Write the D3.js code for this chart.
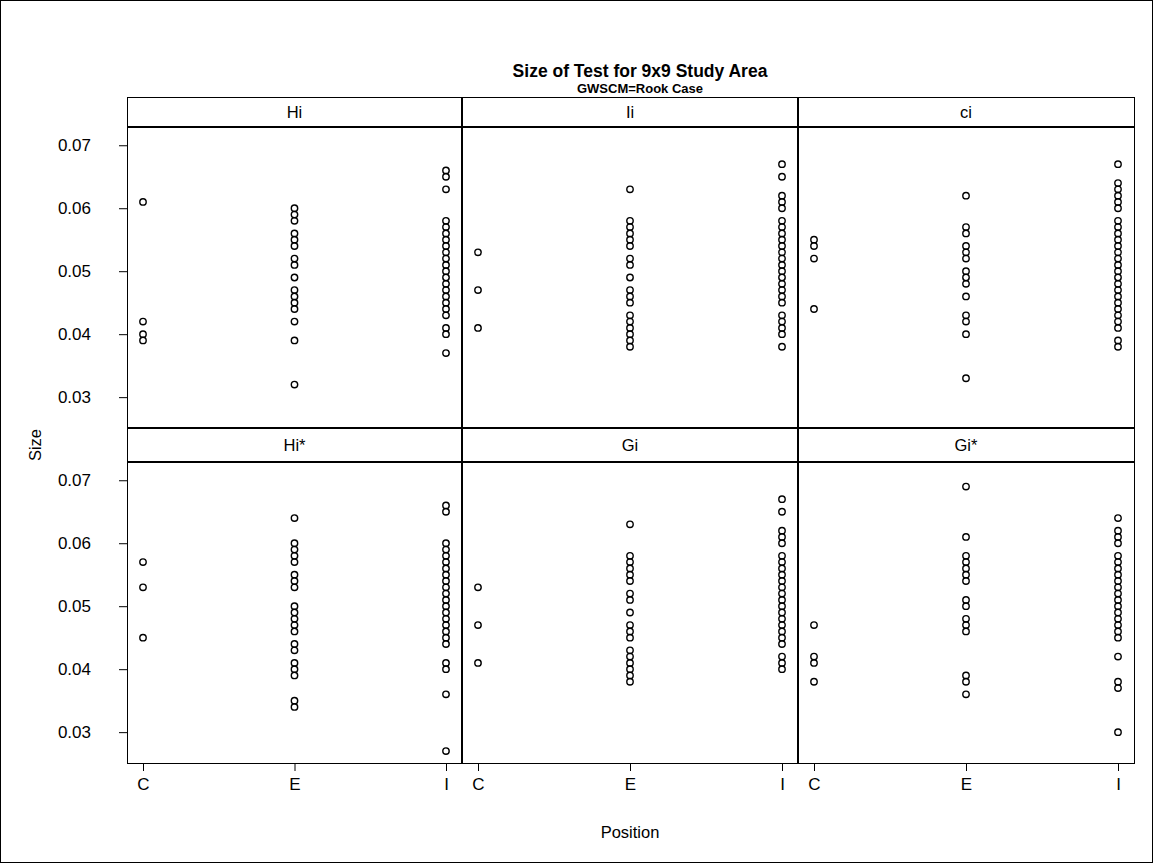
<!DOCTYPE html>
<html>
<head>
<meta charset="utf-8">
<script src="https://cdn.jsdelivr.net/npm/d3@7"></script>
<style>
  body { margin: 0; background: #fff; }
  svg { display: block; }
  text { font-family: "Liberation Sans", Arial, sans-serif; fill: #000; }
</style>
</head>
<body>
<svg id="chart" width="1155" height="865"></svg>
<script>
// Panel labels, x categories and y ticks
const panelNames = ["Hi", "Ii", "ci", "Hi*", "Gi", "Gi*"];
const positions = ["C", "E", "I"];
const yTicks = [0.03, 0.04, 0.05, 0.06, 0.07];

// Size of test per statistic and cell position
const hiC = [0.061, 0.042, 0.040, 0.039];
const hiE = [0.060, 0.059, 0.058, 0.056, 0.055, 0.054, 0.052, 0.051, 0.049, 0.047, 0.046, 0.045, 0.044, 0.042, 0.039, 0.032];
const hiI = [0.066, 0.065, 0.063, 0.058, 0.057, 0.056, 0.055, 0.054, 0.053, 0.052, 0.051, 0.050, 0.049, 0.048, 0.047, 0.046, 0.045, 0.044, 0.043, 0.041, 0.040, 0.037];

const iiC = [0.053, 0.047, 0.041];
const iiE = [0.063, 0.058, 0.057, 0.056, 0.055, 0.054, 0.052, 0.051, 0.049, 0.047, 0.046, 0.045, 0.043, 0.042, 0.041, 0.040, 0.039, 0.038];
const iiI = [0.067, 0.065, 0.062, 0.061, 0.060, 0.058, 0.057, 0.056, 0.055, 0.054, 0.053, 0.052, 0.051, 0.050, 0.049, 0.048, 0.047, 0.046, 0.045, 0.043, 0.042, 0.041, 0.040, 0.038];

const ciC = [0.055, 0.054, 0.052, 0.044];
const ciE = [0.062, 0.057, 0.056, 0.054, 0.053, 0.052, 0.050, 0.049, 0.048, 0.046, 0.043, 0.042, 0.040, 0.033];
const ciI = [0.067, 0.064, 0.063, 0.062, 0.061, 0.060, 0.058, 0.057, 0.056, 0.055, 0.054, 0.053, 0.052, 0.051, 0.050, 0.049, 0.048, 0.047, 0.046, 0.045, 0.044, 0.043, 0.042, 0.041, 0.039, 0.038];

const hisC = [0.057, 0.053, 0.045];
const hisE = [0.064, 0.060, 0.059, 0.058, 0.057, 0.055, 0.054, 0.053, 0.050, 0.049, 0.048, 0.047, 0.046, 0.044, 0.043, 0.041, 0.040, 0.039, 0.035, 0.034];
const hisI = [0.066, 0.065, 0.060, 0.059, 0.058, 0.057, 0.056, 0.055, 0.054, 0.053, 0.052, 0.051, 0.050, 0.049, 0.048, 0.047, 0.046, 0.045, 0.044, 0.041, 0.040, 0.036, 0.027];

const giC = [0.053, 0.047, 0.041];
const giE = [0.063, 0.058, 0.057, 0.056, 0.055, 0.054, 0.052, 0.051, 0.049, 0.047, 0.046, 0.045, 0.043, 0.042, 0.041, 0.040, 0.039, 0.038];
const giI = [0.067, 0.065, 0.062, 0.061, 0.060, 0.058, 0.057, 0.056, 0.055, 0.054, 0.053, 0.052, 0.051, 0.050, 0.049, 0.048, 0.047, 0.046, 0.045, 0.044, 0.042, 0.041, 0.040];

const gisC = [0.047, 0.042, 0.041, 0.038];
const gisE = [0.069, 0.061, 0.058, 0.057, 0.056, 0.055, 0.054, 0.051, 0.050, 0.048, 0.047, 0.046, 0.039, 0.038, 0.036];
const gisI = [0.064, 0.062, 0.061, 0.060, 0.058, 0.057, 0.056, 0.055, 0.054, 0.053, 0.052, 0.051, 0.050, 0.049, 0.048, 0.047, 0.046, 0.045, 0.042, 0.038, 0.037, 0.030];

const panelData = [
  [hiC, hiE, hiI], [iiC, iiE, iiI], [ciC, ciE, ciI],
  [hisC, hisE, hisI], [giC, giE, giI], [gisC, gisE, gisI]
];

const svg = d3.select("#chart");
const labelFont = "16.5px";
const tickFont = "17px";
const fontStack = "'Liberation Sans', Arial, sans-serif";

// Grid geometry
const colEdges = [127, 462, 798, 1134];
const rows = [
  { headTop: 97, plotTop: 127, plotBottom: 428 },
  { headTop: 428, plotTop: 462, plotBottom: 763 }
];

// outer frame
svg.append("rect").attr("x", 0.5).attr("y", 0.5).attr("width", 1152).attr("height", 862)
  .attr("fill", "none").attr("stroke", "#000");

// titles
svg.append("text").attr("x", 640).attr("y", 77).attr("text-anchor", "middle")
  .style("font-size", "17.5px").style("font-weight", "bold").text("Size of Test for 9x9 Study Area");
svg.append("text").attr("x", 640).attr("y", 93).attr("text-anchor", "middle")
  .style("font-size", "13px").style("font-weight", "bold").text("GWSCM=Rook Case");

const yDomain = [0.0251, 0.0729];

panelData.forEach((cols, i) => {
  const r = rows[Math.floor(i / 3)];
  const c = i % 3;
  const x0 = colEdges[c], x1 = colEdges[c + 1];

  const x = d3.scalePoint().domain(positions).range([x0 + 16, x1 - 16]);
  const y = d3.scaleLinear().domain(yDomain).range([r.plotBottom, r.plotTop]);

  // header strip
  svg.append("rect").attr("x", x0 + 0.5).attr("y", r.headTop + 0.5)
    .attr("width", x1 - x0).attr("height", r.plotTop - r.headTop)
    .attr("fill", "#fff").attr("stroke", "#000");
  svg.append("text").attr("x", (x0 + x1) / 2).attr("y", (r.headTop + r.plotTop) / 2 + 6)
    .attr("text-anchor", "middle").style("font-size", labelFont).text(panelNames[i]);

  // points
  const g = svg.append("g");
  cols.forEach((vals, k) => {
    g.selectAll(null).data(vals).join("circle")
      .attr("cx", x(positions[k]))
      .attr("cy", d => y(d))
      .attr("r", 3.2)
      .attr("fill", "none")
      .attr("stroke", "#000")
      .attr("stroke-width", 1.4);
  });

  // left axis on the first column
  if (c === 0) {
    const ax = svg.append("g").attr("transform", `translate(${x0},0)`)
      .call(d3.axisLeft(y).tickValues(yTicks).tickFormat(d3.format(".2f")).tickSize(8).tickPadding(28));
    ax.select(".domain").remove();
    ax.selectAll("text").style("font-size", tickFont).style("font-family", fontStack);
  }
  // bottom axis on the lower row
  if (i >= 3) {
    const bx = svg.append("g").attr("transform", `translate(0,${r.plotBottom})`)
      .call(d3.axisBottom(x).tickSize(8).tickPadding(7));
    bx.select(".domain").remove();
    bx.selectAll("text").style("font-size", tickFont).style("font-family", fontStack);
  }
});

// panel frames and dividers
const frame = svg.append("g").attr("fill", "none").attr("stroke", "#000");
frame.append("rect").attr("x", 127.5).attr("y", 97.5).attr("width", 1007).attr("height", 666);
[462, 798].forEach(xv => {
  frame.append("line").attr("x1", xv).attr("x2", xv).attr("y1", 97).attr("y2", 764).attr("stroke-width", 2);
});
[127, 428, 462].forEach(yv => {
  frame.append("line").attr("x1", 127).attr("x2", 1135).attr("y1", yv).attr("y2", yv).attr("stroke-width", 2);
});

// axis titles
svg.append("text").attr("x", 630).attr("y", 838).attr("text-anchor", "middle")
  .style("font-size", labelFont).text("Position");
svg.append("text").attr("transform", "translate(41,445) rotate(-90)").attr("text-anchor", "middle")
  .style("font-size", labelFont).text("Size");
</script>
</body>
</html>
